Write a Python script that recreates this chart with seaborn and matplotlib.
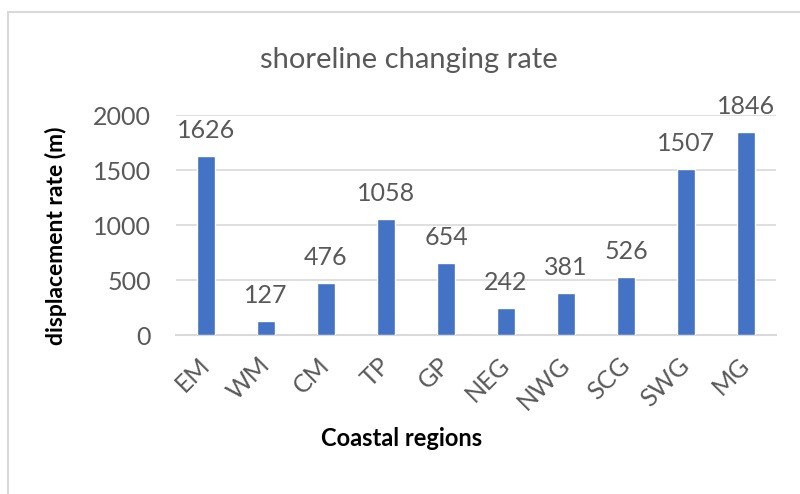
import matplotlib
matplotlib.use("Agg")
import matplotlib.pyplot as plt
import seaborn as sns
import pandas as pd
from matplotlib.patches import Rectangle

regions = ["EM", "WM", "CM", "TP", "GP", "NEG", "NWG", "SCG", "SWG", "MG"]
rates = [1626, 127, 476, 1058, 654, 242, 381, 526, 1507, 1846]
yticks = [0, 500, 1000, 1500, 2000]

df = pd.DataFrame({"region": regions, "rate": rates})

sns.set_theme(style="white")
plt.rcParams["font.family"] = ["Lato", "DejaVu Sans"]

grey_text = "#595959"
grid_col = "#D9D9D9"
bar_col = "#4472C4"

fig = plt.figure(figsize=(8.0, 4.94), dpi=100)
ax = fig.add_axes([0.22, 1 - 335 / 494, 0.75, (335 - 115) / 494])

sns.barplot(data=df, x="region", y="rate", color=bar_col, width=0.31,
            saturation=1, ax=ax, zorder=3)

ax.set_ylim(0, 2000)
ax.set_yticks(yticks)
ax.yaxis.grid(True, color=grid_col, linewidth=1.2, zorder=0)
ax.set_axisbelow(True)
for side in ["top", "right", "left"]:
    ax.spines[side].set_visible(False)
ax.spines["bottom"].set_color(grid_col)
ax.spines["bottom"].set_linewidth(1.5)

ax.tick_params(axis="y", length=0, pad=18, labelsize=18, labelcolor=grey_text)
ax.tick_params(axis="x", length=0, pad=19, labelsize=18, labelcolor=grey_text)
for lbl in ax.get_xticklabels():
    lbl.set_rotation(45)
    lbl.set_ha("right")
    lbl.set_va("center")
    lbl.set_rotation_mode("anchor")

ax.bar_label(ax.containers[0], labels=[str(v) for v in rates], padding=10,
             fontsize=18, color=grey_text)

ax.set_xlabel("", fontsize=1)
ax.set_ylabel("", fontsize=1)
fig.text(402 / 800, 1 - 438 / 494, "Coastal regions", fontsize=17,
         fontweight="bold", color="black", ha="center", va="center")
fig.text(56 / 800, 1 - 236 / 494, "displacement rate (m)", fontsize=16.5,
         fontweight="bold", color="black", ha="center", va="center",
         rotation=90)
fig.text(409 / 800, 1 - 60 / 494, "shoreline changing rate", fontsize=21,
         color=grey_text, ha="center", va="center")

# chart area frame
fig.patches.append(Rectangle((8 / 800, -0.1), 1.2, 1 - 12 / 494 + 0.1,
                             transform=fig.transFigure, fill=False,
                             edgecolor=grid_col, linewidth=1.5))

fig.savefig("out.png", dpi=100)
